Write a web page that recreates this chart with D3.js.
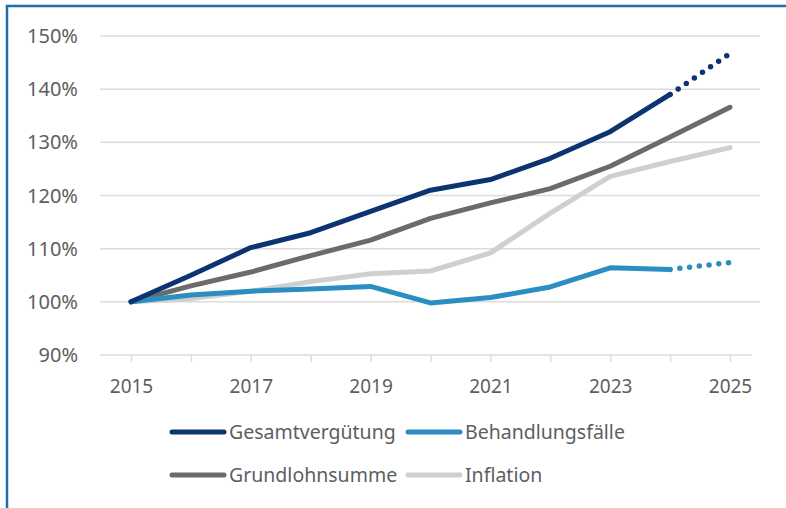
<!DOCTYPE html>
<html>
<head>
<meta charset="utf-8">
<script src="https://cdn.jsdelivr.net/npm/d3@7"></script>
<style>
  body { margin: 0; background: #fff; }
  svg { display: block; font-family: "Noto Sans", "Open Sans", sans-serif; }
</style>
</head>
<body>
<svg id="chart" width="786" height="508"></svg>
<script>
// data
const years = [2015, 2016, 2017, 2018, 2019, 2020, 2021, 2022, 2023, 2024, 2025];
const yTicks = [90, 100, 110, 120, 130, 140, 150];
const xLabels = [2015, 2017, 2019, 2021, 2023, 2025];

const gesamt = [100, 105, 110.2, 113, 117, 121, 123, 127, 132, 139];
const gesamtForecast = [139, 146.7];
const behandlung = [100, 101.3, 102, 102.4, 102.9, 99.8, 100.8, 102.8, 106.4, 106.1];
const behandlungForecast = [106.1, 107.4];
const grundlohn = [100, 103, 105.6, 108.7, 111.6, 115.7, 118.6, 121.3, 125.5, 131, 136.6];
const inflation = [100, 100.6, 102, 103.8, 105.3, 105.8, 109.2, 116.7, 123.6, 126.4, 129];

const names = ["Gesamtvergütung", "Behandlungsfälle", "Grundlohnsumme", "Inflation"];
const colors = ["#0b3470", "#2b8ec2", "#6b6b6b", "#cfcfcf"];

const svg = d3.select("#chart");

// frame
svg.append("path")
  .attr("d", "M7,508 L7,6 L786,6")
  .attr("fill", "none").attr("stroke", "#1f6fa6").attr("stroke-width", 2.5);

const x = d3.scaleLinear().domain([2015, 2025]).range([131, 730]);
const y = d3.scaleLinear().domain([90, 150]).range([355, 36]);

// gridlines
svg.append("g").selectAll("line").data(yTicks.filter(d => d > 90)).enter().append("line")
  .attr("x1", 100).attr("x2", 760)
  .attr("y1", d => y(d)).attr("y2", d => y(d))
  .attr("stroke", "#dcdcdc").attr("stroke-width", 1.5);

// y axis labels
svg.append("g").selectAll("text").data(yTicks).enter().append("text")
  .attr("x", 78).attr("y", d => y(d) + 7)
  .attr("text-anchor", "end")
  .attr("font-size", 20).attr("fill", "#5e5e5e")
  .text(d => d + "%");

// x axis
const xAxis = svg.append("g").attr("transform", "translate(0," + y(90) + ")")
  .call(d3.axisBottom(x).tickValues(years).tickSize(7).tickFormat(d => xLabels.includes(d) ? d : ""));
xAxis.select(".domain").attr("d", "M100,0H752").attr("stroke", "#dcdcdc").attr("stroke-width", 1.5);
xAxis.selectAll(".tick line").attr("stroke", "#dcdcdc").attr("stroke-width", 1.5);
xAxis.selectAll(".tick text").attr("font-size", 19).attr("fill", "#5e5e5e")
  .attr("font-family", "Noto Sans, sans-serif").attr("dy", 0).attr("y", 38);

const line = d3.line().x((d, i) => x(d.year)).y(d => y(d.v));
const toPts = (arr, start) => arr.map((v, i) => ({ year: years[start + i], v: v }));

function drawLine(arr, start, color, dotted) {
  const p = svg.append("path").datum(toPts(arr, start))
    .attr("d", line).attr("fill", "none")
    .attr("stroke", color).attr("stroke-width", 5)
    .attr("stroke-linecap", "round").attr("stroke-linejoin", "round");
  if (dotted) p.attr("stroke-dasharray", "0 9.8").attr("stroke-width", 5.5);
}

drawLine(inflation, 0, colors[3]);
drawLine(grundlohn, 0, colors[2]);
drawLine(behandlung, 0, colors[1]);
drawLine(behandlungForecast, 9, colors[1], true);
drawLine(gesamt, 0, colors[0]);
drawLine(gesamtForecast, 9, colors[0], true);

// legend
const legendPos = [[170, 432], [406, 432], [170, 475], [406, 475]];
const legend = svg.append("g");
names.forEach((n, i) => {
  const [lx, ly] = legendPos[i];
  legend.append("line")
    .attr("x1", lx + 2).attr("x2", lx + 54).attr("y1", ly).attr("y2", ly)
    .attr("stroke", colors[i]).attr("stroke-width", 5).attr("stroke-linecap", "round");
  legend.append("text")
    .attr("x", lx + 59).attr("y", ly + 7)
    .attr("font-size", 19.5).attr("fill", "#5e5e5e")
    .text(n);
});
</script>
</body>
</html>
